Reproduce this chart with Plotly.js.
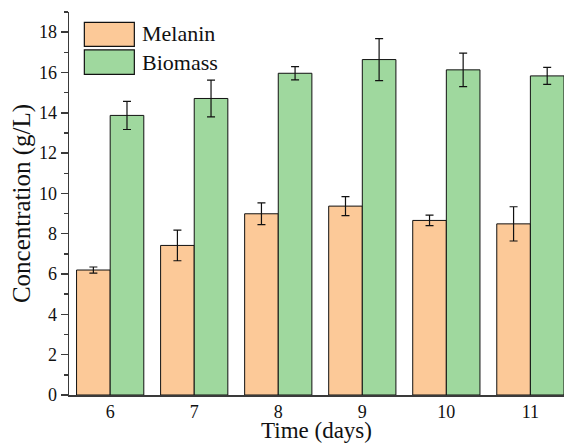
<!DOCTYPE html>
<html>
<head>
<meta charset="utf-8">
<script src="https://cdn.plot.ly/plotly-3.0.1.min.js"></script>
<style>
html,body{margin:0;padding:0;overflow:hidden;background:#fff;}
#chart svg text{font-family:"Liberation Serif","Times New Roman",serif !important;}
</style>
</head>
<body>
<div id="chart" style="width:564px;height:443px;"></div>
<script>
const days = ["6", "7", "8", "9", "10", "11"];
const melanin = [6.2, 7.42, 8.99, 9.37, 8.66, 8.49];
const melaninErr = [0.15, 0.76, 0.54, 0.47, 0.26, 0.85];
const biomass = [13.87, 14.71, 15.96, 16.64, 16.13, 15.83];
const biomassErr = [0.7, 0.91, 0.33, 1.04, 0.83, 0.42];
const seriesNames = ["Melanin", "Biomass"];
const colors = ["#FCC998", "#9FD89E"];
const font = "Liberation Serif";

const errStyle = {type: 'data', visible: true, color: '#111', thickness: 1.2, width: 4};

const traces = [
  {type: 'bar', x: days, y: melanin, name: seriesNames[0],
   marker: {color: colors[0], line: {color: '#111', width: 1}},
   error_y: Object.assign({array: melaninErr}, errStyle)},
  {type: 'bar', x: days, y: biomass, name: seriesNames[1],
   marker: {color: colors[1], line: {color: '#111', width: 1}},
   error_y: Object.assign({array: biomassErr}, errStyle)}
];

const layout = {
  width: 564, height: 443,
  margin: {l: 69, r: 0, t: 12, b: 48},
  paper_bgcolor: '#fff', plot_bgcolor: '#fff',
  showlegend: false,
  barmode: 'group', bargap: 0.2, bargroupgap: 0,
  font: {family: font, color: '#111', size: 18},
  xaxis: {
    type: 'category', range: [-0.49, 5.4],
    showline: true, linecolor: '#3a3a3a', linewidth: 1.5,
    ticks: '', showgrid: false, zeroline: false,
    tickfont: {family: font, size: 18, color: '#111'},
    title: {text: 'Time (days)', font: {family: font, size: 23, color: '#111'}, standoff: 3}
  },
  yaxis: {
    range: [0, 19], dtick: 2, tick0: 0,
    showline: true, linecolor: '#3a3a3a', linewidth: 1.5,
    ticks: 'outside', ticklen: 7, tickwidth: 1.5, tickcolor: '#3a3a3a',
    minor: {dtick: 1, ticks: 'outside', ticklen: 4, tickwidth: 1.5, tickcolor: '#3a3a3a', showgrid: false},
    showgrid: false, zeroline: false,
    tickfont: {family: font, size: 18, color: '#111'},
    title: {text: 'Concentration (g/L)', font: {family: font, size: 25, color: '#111'}, standoff: 1}
  },
  shapes: [
    {type: 'rect', xref: 'paper', yref: 'paper', x0: 0.031, x1: 0.132, y0: 0.910, y1: 0.973,
     fillcolor: colors[0], line: {color: '#111', width: 1.2}},
    {type: 'rect', xref: 'paper', yref: 'paper', x0: 0.031, x1: 0.132, y0: 0.837, y1: 0.901,
     fillcolor: colors[1], line: {color: '#111', width: 1.2}}
  ],
  annotations: [
    {xref: 'paper', yref: 'paper', x: 0.143, y: 0.943, xanchor: 'left', yanchor: 'middle',
     text: seriesNames[0], showarrow: false, font: {family: font, size: 22, color: '#111'}},
    {xref: 'paper', yref: 'paper', x: 0.143, y: 0.869, xanchor: 'left', yanchor: 'middle',
     text: seriesNames[1], showarrow: false, font: {family: font, size: 22, color: '#111'}}
  ]
};

Plotly.newPlot('chart', traces, layout, {staticPlot: true, displayModeBar: false});
</script>
</body>
</html>
